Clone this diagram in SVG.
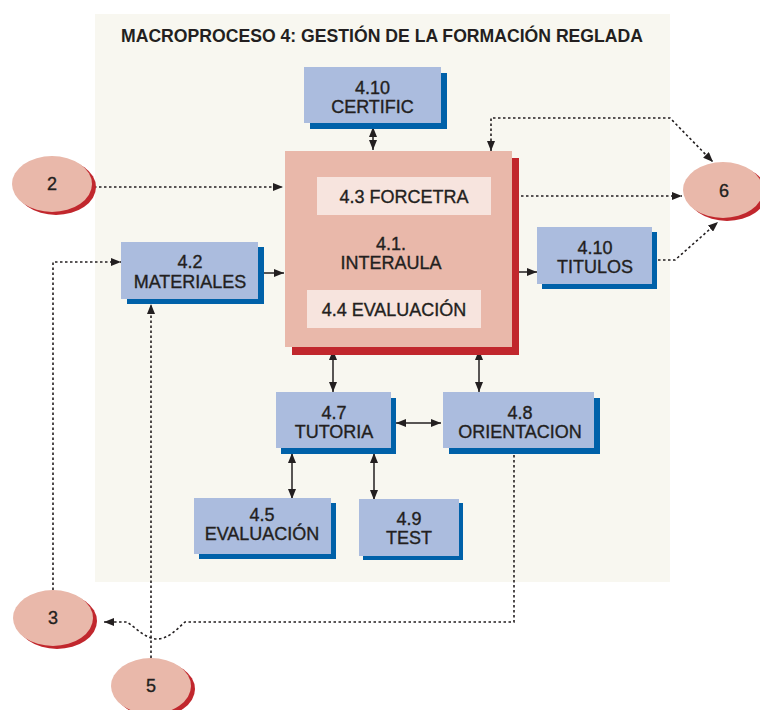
<svg xmlns="http://www.w3.org/2000/svg" width="760" height="710" viewBox="0 0 760 710">
<defs>
<style>
text{font-family:"Liberation Sans",Arial,Helvetica,sans-serif;fill:#231f20;stroke:#231f20;stroke-width:0.35;text-anchor:middle;font-size:18px}
.title{font-size:17.5px;font-weight:bold;stroke-width:0}
.bshadow{fill:#0061a9}
.box{fill:#abbcde}
.pink{fill:#e9b8aa}
.red{fill:#c1272d}
.inner{fill:#f7e4de}
.solid{fill:none;stroke:#231f20;stroke-width:1.5}
.dot{fill:none;stroke:#231f20;stroke-width:1.6;stroke-dasharray:2.5 2.5}
</style>
<marker id="ah" viewBox="0 0 10 8" refX="10" refY="4" markerWidth="10" markerHeight="8" markerUnits="userSpaceOnUse" orient="auto-start-reverse">
<path d="M0,0 L10,4 L0,8 z" fill="#231f20"/>
</marker>
</defs>
<rect x="95" y="14" width="575" height="568" fill="#f8f7f0"/>
<text class="title" x="382" y="42" textLength="522" lengthAdjust="spacingAndGlyphs">MACROPROCESO 4: GESTIÓN DE LA FORMACIÓN REGLADA</text>

<g id="connectors">
<path class="solid" d="M373,127 V150" marker-start="url(#ah)" marker-end="url(#ah)"/>
<path class="solid" d="M259,273 H284" marker-end="url(#ah)"/>
<path class="solid" d="M512,272 H537" marker-end="url(#ah)"/>
<path class="solid" d="M462,288 V217" marker-end="url(#ah)"/>
<path class="solid" d="M333,350 V392" marker-start="url(#ah)" marker-end="url(#ah)"/>
<path class="solid" d="M479,350 V392" marker-start="url(#ah)" marker-end="url(#ah)"/>
<path class="solid" d="M396,423 H441" marker-start="url(#ah)" marker-end="url(#ah)"/>
<path class="solid" d="M292,453 V499" marker-start="url(#ah)" marker-end="url(#ah)"/>
<path class="solid" d="M374,453 V500" marker-start="url(#ah)" marker-end="url(#ah)"/>
<path class="dot" d="M94,187 H283" marker-end="url(#ah)"/>
<path class="dot" d="M491,196 H682" marker-end="url(#ah)"/>
<path class="dot" d="M491,151 V118 H670 L713,162" marker-start="url(#ah)" marker-end="url(#ah)"/>
<path class="dot" d="M658,260 H675 L718,222" marker-end="url(#ah)"/>
<path class="dot" d="M53,590 V262 H121" marker-end="url(#ah)"/>
<path class="dot" d="M151,658 V304" marker-end="url(#ah)"/>
<path class="dot" d="M514,455 V622 H185 C176,630 168,639 157,639 C146,639 136,628 127,622 H104" marker-end="url(#ah)"/>
</g>

<g id="n41">
<rect class="red" x="292" y="158" width="227" height="197"/>
<rect class="pink" x="285" y="151" width="227" height="196"/>
<text x="391" y="250">4.1.</text>
<text x="391" y="269">INTERAULA</text>
</g>
<g id="n43">
<rect class="inner" x="317" y="177" width="174" height="38"/>
<text x="404" y="203">4.3 FORCETRA</text>
</g>
<g id="n44">
<rect class="inner" x="307" y="290" width="174" height="38"/>
<text x="394" y="316">4.4 EVALUACIÓN</text>
</g>

<g id="n410c">
<rect class="bshadow" x="310" y="73" width="137" height="56"/>
<rect class="box" x="304" y="67" width="137" height="56"/>
<text x="372.5" y="94">4.10</text>
<text x="372.5" y="113">CERTIFIC</text>
</g>
<g id="n42">
<rect class="bshadow" x="127" y="247" width="137" height="57"/>
<rect class="box" x="121" y="242" width="137" height="57"/>
<text x="190" y="268">4.2</text>
<text x="190" y="288">MATERIALES</text>
</g>
<g id="n410t">
<rect class="bshadow" x="542" y="232" width="115" height="57"/>
<rect class="box" x="537" y="227" width="115" height="57"/>
<text x="595" y="254">4.10</text>
<text x="595" y="273">TITULOS</text>
</g>
<g id="n47">
<rect class="bshadow" x="281" y="398" width="115" height="56"/>
<rect class="box" x="276" y="392" width="115" height="56"/>
<text x="334" y="419">4.7</text>
<text x="334" y="438">TUTORIA</text>
</g>
<g id="n48">
<rect class="bshadow" x="449" y="398" width="151" height="56"/>
<rect class="box" x="443" y="392" width="151" height="56"/>
<text x="520" y="419">4.8</text>
<text x="520" y="438">ORIENTACION</text>
</g>
<g id="n45">
<rect class="bshadow" x="199" y="503" width="137" height="56"/>
<rect class="box" x="194" y="498" width="137" height="56"/>
<text x="262" y="521">4.5</text>
<text x="262" y="540">EVALUACIÓN</text>
</g>
<g id="n49">
<rect class="bshadow" x="363" y="503" width="100" height="57"/>
<rect class="box" x="359" y="499" width="100" height="57"/>
<text x="409" y="525">4.9</text>
<text x="409" y="544">TEST</text>
</g>

<g id="e2">
<ellipse class="red" cx="56" cy="187" rx="40" ry="28"/>
<ellipse class="pink" cx="52" cy="184" rx="40" ry="28"/>
<text x="52" y="190">2</text>
</g>
<g id="e3">
<ellipse class="red" cx="57" cy="621" rx="40" ry="28"/>
<ellipse class="pink" cx="53" cy="618" rx="40" ry="28"/>
<text x="53" y="624">3</text>
</g>
<g id="e5">
<ellipse class="red" cx="155" cy="689" rx="40" ry="28"/>
<ellipse class="pink" cx="151" cy="686" rx="40" ry="28"/>
<text x="151" y="692">5</text>
</g>
<g id="e6">
<ellipse class="red" cx="727" cy="193" rx="40" ry="28"/>
<ellipse class="pink" cx="723" cy="190" rx="40" ry="28"/>
<text x="724" y="197">6</text>
</g>
</svg>
